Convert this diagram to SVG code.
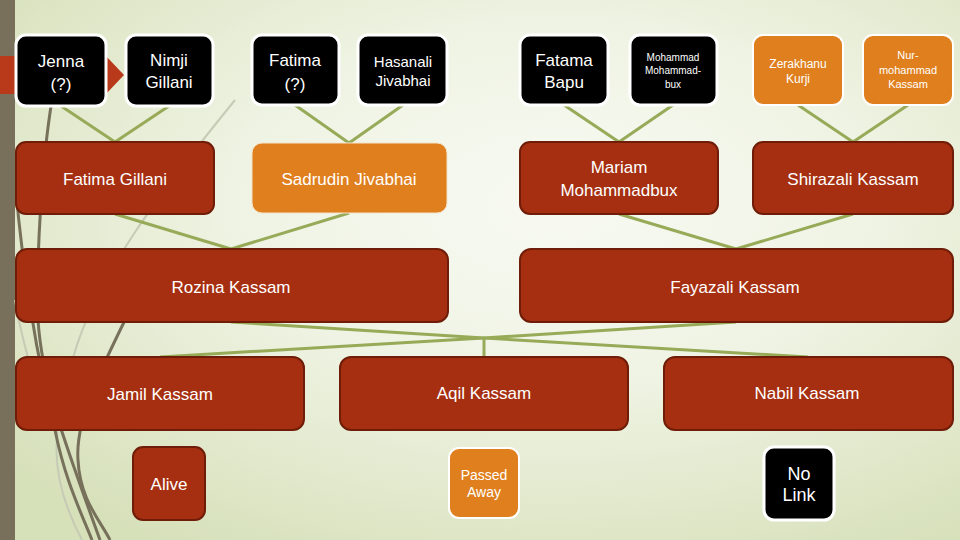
<svg xmlns="http://www.w3.org/2000/svg" width="960" height="540" viewBox="0 0 960 540">
<defs>
<radialGradient id="bg" cx="58%" cy="38%" r="75%">
<stop offset="0" stop-color="#f8faf3"/>
<stop offset="0.45" stop-color="#eff3e3"/>
<stop offset="1" stop-color="#d6e0b9"/>
</radialGradient>
<style>
.red{fill:#a52f10;stroke:#6f1d08;stroke-width:2}
.org{fill:#df7f1e;stroke:#ffffff;stroke-width:2}
.org2{fill:#df7f1e;stroke:#f3e3c8;stroke-width:1}
.blk{fill:#000000;stroke:#ffffff;stroke-width:3}
text{font-family:"Liberation Sans",Arial,sans-serif;fill:#ffffff;text-anchor:middle}
.t17{font-size:17px}
.conn line{stroke:#97aa58;stroke-width:3}
.wd{fill:none;stroke:#77705a;stroke-width:3}
.wl{fill:none;stroke:#c6cbb5;stroke-width:2}
</style>
</defs>
<rect x="0" y="0" width="960" height="540" fill="url(#bg)"/>
<rect x="0" y="0" width="15" height="540" fill="#78705a"/>
<polygon points="0,56 106,56 124,75 106,94 0,94" fill="#b83a1b"/>
<g id="wisp">
<path class="wl" d="M235,100 C170,180 90,280 70,370 C55,430 45,470 82,540"/>
<path class="wl" d="M15,300 C20,330 28,360 40,400"/>
<path class="wd" d="M52,100 C42,160 36,260 38,320 C42,380 60,430 100,540"/>
<path class="wd" d="M15,180 C20,240 30,330 55,430 C65,480 80,510 92,540"/>
<path class="wd" d="M135,300 C100,370 75,420 78,460 C80,500 100,520 110,540"/>
</g>
<g id="connectors" class="conn">
<line x1="61" y1="106" x2="115" y2="142"/>
<line x1="169" y1="106" x2="115" y2="142"/>
<line x1="295" y1="105" x2="349" y2="143"/>
<line x1="403" y1="105" x2="349" y2="143"/>
<line x1="564" y1="105" x2="619" y2="142"/>
<line x1="673" y1="105" x2="619" y2="142"/>
<line x1="798" y1="105" x2="853" y2="142"/>
<line x1="908" y1="105" x2="853" y2="142"/>
<line x1="115" y1="214" x2="231" y2="249"/>
<line x1="349" y1="213" x2="231" y2="249"/>
<line x1="619" y1="214" x2="736" y2="249"/>
<line x1="853" y1="214" x2="736" y2="249"/>
<line x1="231" y1="322" x2="484" y2="338"/>
<line x1="736" y1="322" x2="484" y2="338"/>
<line x1="484" y1="338" x2="160" y2="357"/>
<line x1="484" y1="338" x2="808" y2="357"/>
<line x1="484" y1="338" x2="484" y2="357"/>
</g>
<g id="jenna"><rect class="blk" x="16" y="35" width="90" height="71" rx="10"/><text class="t17" x="61" y="67">Jenna</text><text class="t17" x="61" y="90">(?)</text></g>
<g id="nimji"><rect class="blk" x="126" y="35" width="87" height="71" rx="10"/><text class="t17" x="169" y="66">Nimji</text><text class="t17" x="169" y="88">Gillani</text></g>
<g id="fatima"><rect class="blk" x="252" y="35" width="87" height="70" rx="10"/><text class="t17" x="295" y="66">Fatima</text><text class="t17" x="295" y="90">(?)</text></g>
<g id="hasanali"><rect class="blk" x="358" y="35" width="89" height="70" rx="10"/><text x="403" y="67" font-size="15">Hasanali</text><text x="403" y="86" font-size="15">Jivabhai</text></g>
<g id="fatama"><rect class="blk" x="520" y="35" width="88" height="70" rx="10"/><text class="t17" x="564" y="66">Fatama</text><text class="t17" x="564" y="88">Bapu</text></g>
<g id="mohammad"><rect class="blk" x="630" y="35" width="87" height="70" rx="10"/><text x="673" y="61" font-size="10">Mohammad</text><text x="673" y="74" font-size="10">Mohammad-</text><text x="673" y="88" font-size="10">bux</text></g>
<g id="zerakhanu"><rect class="org" x="753" y="35" width="90" height="70" rx="10"/><text x="798" y="68" font-size="12">Zerakhanu</text><text x="798" y="83" font-size="12">Kurji</text></g>
<g id="nurmohammad"><rect class="org" x="863" y="35" width="90" height="70" rx="10"/><text x="908" y="59" font-size="11">Nur-</text><text x="908" y="74" font-size="11">mohammad</text><text x="908" y="88" font-size="11">Kassam</text></g>
<g id="fatimagillani"><rect class="red" x="16" y="142" width="198" height="72" rx="10"/><text class="t17" x="115" y="185">Fatima Gillani</text></g>
<g id="sadrudin"><rect class="org2" x="252" y="143" width="195" height="70" rx="10"/><text class="t17" x="349" y="185">Sadrudin Jivabhai</text></g>
<g id="mariam"><rect class="red" x="520" y="142" width="198" height="72" rx="10"/><text class="t17" x="619" y="173">Mariam</text><text class="t17" x="619" y="196">Mohammadbux</text></g>
<g id="shirazali"><rect class="red" x="753" y="142" width="200" height="72" rx="10"/><text class="t17" x="853" y="185">Shirazali Kassam</text></g>
<g id="rozina"><rect class="red" x="16" y="249" width="432" height="73" rx="11"/><text class="t17" x="231" y="293">Rozina Kassam</text></g>
<g id="fayazali"><rect class="red" x="520" y="249" width="433" height="73" rx="11"/><text class="t17" x="735" y="293">Fayazali Kassam</text></g>
<g id="jamil"><rect class="red" x="16" y="357" width="288" height="73" rx="11"/><text class="t17" x="160" y="400">Jamil Kassam</text></g>
<g id="aqil"><rect class="red" x="340" y="357" width="288" height="73" rx="11"/><text class="t17" x="484" y="399">Aqil Kassam</text></g>
<g id="nabil"><rect class="red" x="664" y="357" width="289" height="73" rx="11"/><text class="t17" x="807" y="399">Nabil Kassam</text></g>
<g id="alive"><rect class="red" x="133" y="447" width="72" height="73" rx="10"/><text class="t17" x="169" y="490">Alive</text></g>
<g id="passedaway"><rect class="org" x="449" y="448" width="70" height="70" rx="10"/><text x="484" y="480" font-size="14">Passed</text><text x="484" y="497" font-size="14">Away</text></g>
<g id="nolink"><rect class="blk" x="764" y="447" width="70" height="73" rx="10"/><text x="799" y="480" font-size="18">No</text><text x="799" y="501" font-size="18">Link</text></g>
</svg>
